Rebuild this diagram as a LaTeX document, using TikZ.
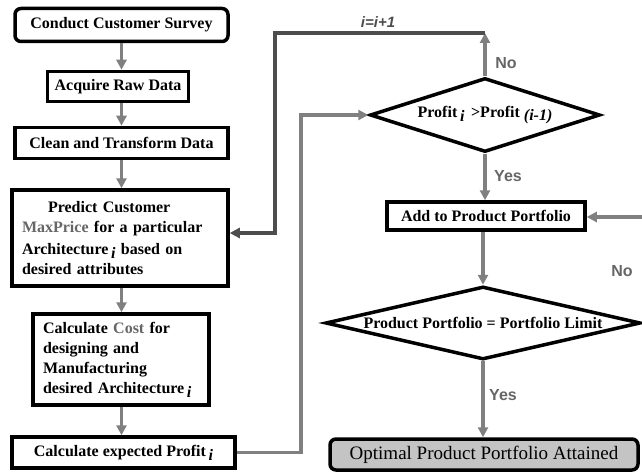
\documentclass[tikz,border=0pt]{standalone}
\usepackage{fontspec}
\setmainfont{Liberation Serif}
\newfontfamily\labelfont{Liberation Sans}
\usetikzlibrary{shapes.geometric,arrows.meta}
\tikzset{>={Triangle[length=10pt,width=10pt]}}
\definecolor{linegray}{HTML}{808080}
\definecolor{loopgray}{HTML}{4D4D4D}
\definecolor{notegray}{HTML}{666666}
\definecolor{endgray}{HTML}{C4C4C4}
\newcommand{\idx}[1]{\,\raisebox{-4pt}{\textit{#1}}}

\begin{document}
\begin{tikzpicture}[x=1pt,y=-1pt,
    stepbox/.style={draw,line width=3.5pt,fill=white,inner sep=0pt,
      font=\fontsize{16}{20}\selectfont\bfseries},
    roundbox/.style={stepbox,rounded corners=6pt},
    textbox/.style={stepbox,align=left,inner xsep=10pt},
    decision/.style={diamond,draw,line width=3.5pt,fill=white,inner sep=0pt},
    flow/.style={draw=linegray,line width=3.5pt,->},
    loopline/.style={draw=loopgray,line width=3.5pt,->},
    answer/.style={text=notegray,font=\labelfont\bfseries\fontsize{16}{18}\selectfont}]
  \useasboundingbox (0,0) rectangle (642,476);
  % left column
  \node[roundbox,minimum width=213,minimum height=33] (survey) at (121.5,25) {Conduct Customer Survey};
  \node[stepbox,minimum width=141,minimum height=30] (acquire) at (118,86.5) {Acquire Raw Data};
  \node[stepbox,minimum width=213,minimum height=31] (clean) at (121.5,143) {Clean and Transform Data};
  \node[textbox,text width=196,minimum height=96] (predict) at (120,238)
    {\hspace*{26pt}Predict Customer\\
     {\color{notegray}MaxPrice} for a particular\\[2pt]
     Architecture\idx{i} based on\\
     desired attributes};
  \node[textbox,text width=156,minimum height=91] (cost) at (121,359.5)
    {Calculate {\color{notegray}Cost} for\\
     designing and\\
     Manufacturing\\
     desired Architecture\idx{i}};
  \node[stepbox,minimum width=223,minimum height=31] (profit) at (123.5,452.5) {Calculate expected Profit\idx{i}};
  % right column
  \node[decision,minimum width=230,minimum height=74,
    label={[font=\fontsize{16}{19}\selectfont\bfseries]center:{Profit\idx{i} \,>Profit \raisebox{-3pt}{\textit{(i-1)}}}}] (better) at (485,115) {};
  \node[stepbox,minimum width=198,minimum height=28] (add) at (486,216) {Add to Product Portfolio};
  \node[decision,minimum width=315,minimum height=73,
    label={[font=\fontsize{16}{20}\selectfont\bfseries]center:{Product Portfolio = Portfolio Limit}}] (limit) at (483,323) {};
  \node[roundbox,fill=endgray,minimum width=308,minimum height=31,
    font=\fontsize{19}{22}\selectfont] (final) at (484,454.5) {Optimal Product Portfolio Attained};
  \coordinate (top) at (485,33);
  \coordinate (loopturn) at (275,33);
  \coordinate (feed) at (301,300);
  \coordinate (noloop) at (645,217);
  % connectors
  \draw[flow] (survey.south) -- (survey.south |- acquire.north);
  \draw[flow] (acquire.south -| survey.south) -- (survey.south |- clean.north);
  \draw[flow] (clean.south) -- (clean.south |- predict.north);
  \draw[flow] (predict.south -| clean.south) -- (clean.south |- cost.north);
  \draw[flow] (cost.south -| clean.south) -- (clean.south |- profit.north);
  \draw[flow] (profit.east) -- (profit.east -| feed) -- (feed |- better.west) -- (better.west);
  \draw[flow] (better.north) -- (top);
  \draw[loopline] (top) -- (loopturn) |- ([yshift=5pt]predict.east);
  \draw[flow] (better.south) -- (better.south |- add.north);
  \draw[flow] (noloop) -- (add.east |- noloop);
  \draw[flow] (add.south -| limit.north) -- (limit.north);
  \draw[flow] (limit.south) -- (limit.south |- final.north);
  % labels
  \node[text=loopgray,font=\labelfont\bfseries\itshape\fontsize{15}{17}\selectfont] (step) at (378,22) {i=i+1};
  \node[answer] (no1) at (506,63) {No};
  \node[answer] (yes1) at (508,176) {Yes};
  \node[answer] (no2) at (622,271) {No};
  \node[answer] (yes2) at (503,395) {Yes};
\end{tikzpicture}
\end{document}
